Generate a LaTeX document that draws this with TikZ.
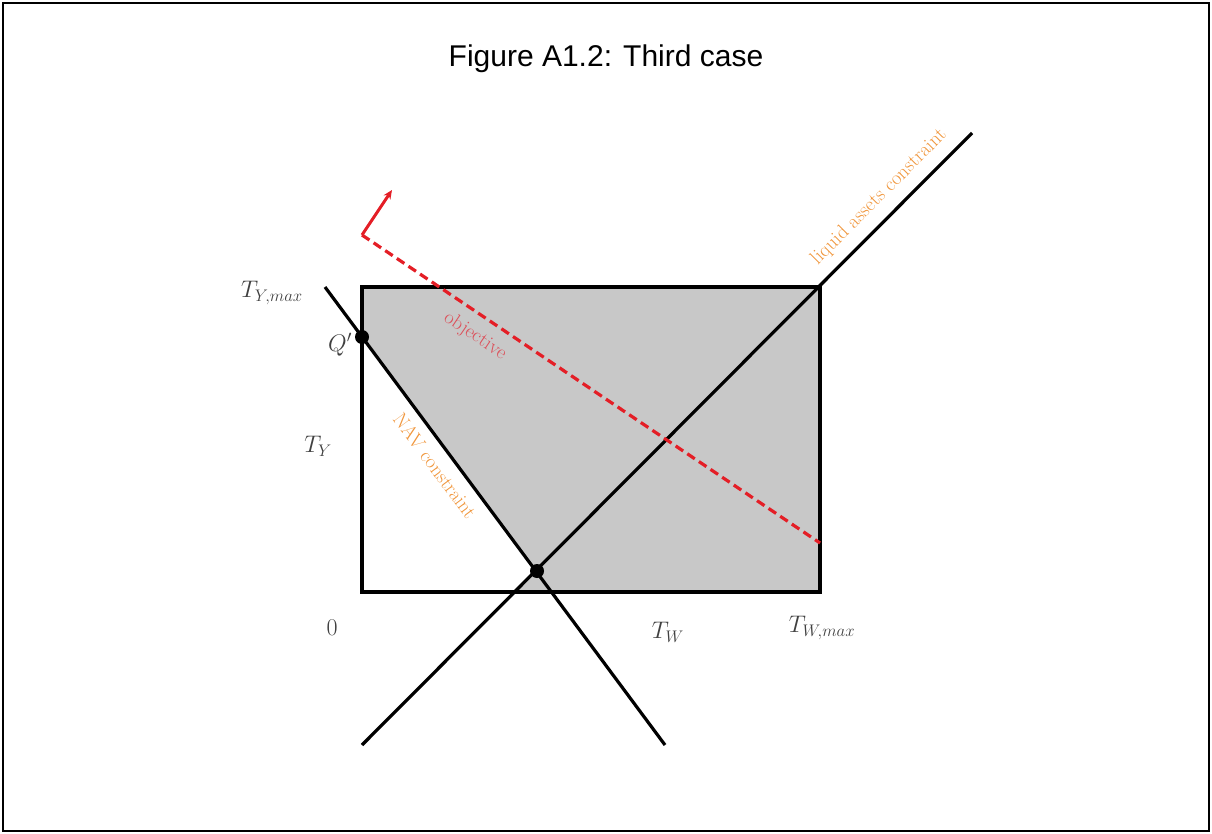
\RequirePackage{fix-cm}
\documentclass[tikz,border=0pt]{standalone}
\usepackage{fontspec}
\newfontfamily\titlefont{Liberation Sans}
\usetikzlibrary{arrows.meta}
\definecolor{grayfill}{RGB}{200,200,200}
\definecolor{objred}{RGB}{228,30,38}
\definecolor{objtxt}{RGB}{220,80,90}
\definecolor{consorange}{RGB}{240,150,60}
\tikzset{
  mainline/.style={line width=3.2pt, black},
  objline/.style={line width=3.2pt, objred, dash pattern=on 9pt off 5pt},
  lbl/.style={font=\fontsize{24}{28}\selectfont, text=black!75, inner sep=0pt},
  rotlbl/.style={font=\fontsize{20}{24}\selectfont, inner sep=0pt},
  dot/.style={circle, fill=black, inner sep=0pt, minimum size=14pt},
}
\begin{document}
\begin{tikzpicture}[x=1pt,y=-1pt]
\useasboundingbox (0,0) rectangle (1212,834);
\draw[line width=2pt] (3,3) rectangle (1209,831);
\node[font=\titlefont\fontsize{30}{34}\selectfont] (title) at (606,59) {Figure A1.2: Third case};
% rectangle corners
\coordinate (O) at (362,592);
\coordinate (TL) at (362,287);
\coordinate (TR) at (820,287);
\coordinate (BR) at (820,592);
% line ends
\coordinate (navA) at (325,287);
\coordinate (navB) at (665,745);
\coordinate (liqA) at (362,745);
\coordinate (liqB) at (972,133);
\coordinate (Qp) at (362,337);
\coordinate (X) at (537,571);
\coordinate (liqBot) at (514.5,592);
% shading
\fill[grayfill] (Qp) -- (TL) -- (TR) -- (BR) -- (liqBot) -- (X) -- cycle;
\draw[mainline] (TL) rectangle (BR);
\draw[mainline] (navA) -- (navB);
\draw[mainline] (liqA) -- (liqB);
% objective
\coordinate (objA) at (362,235);
\coordinate (objB) at (820,543);
\coordinate (objArrow) at (392,190);
\draw[objline] (objA) -- (objB);
\draw[line width=3pt, objred, -{Stealth[length=9pt,width=8pt]}] (objA) -- (objArrow);
\node[dot] (q) at (Qp) {};
\node[dot] (x) at (X) {};
% labels
\node[lbl] (tymax) at (272,293) {$T_{Y,max}$};
\node[lbl] (qlbl) at (340,345) {$Q'$};
\node[lbl] (ty) at (318,446) {$T_Y$};
\node[lbl] (zero) at (332,628) {$0$};
\node[lbl] (tw) at (668,632) {$T_W$};
\node[lbl] (twmax) at (822,628) {$T_{W,max}$};
\node[rotlbl, text=objtxt, rotate=-34] (objlbl) at (475,336) {objective};
\node[rotlbl, text=consorange, rotate=-53.4] (navlbl) at (435,466) {NAV constraint};
\node[rotlbl, text=consorange, rotate=45] (liqlbl) at (879,197) {liquid assets constraint};
\end{tikzpicture}
\end{document}
